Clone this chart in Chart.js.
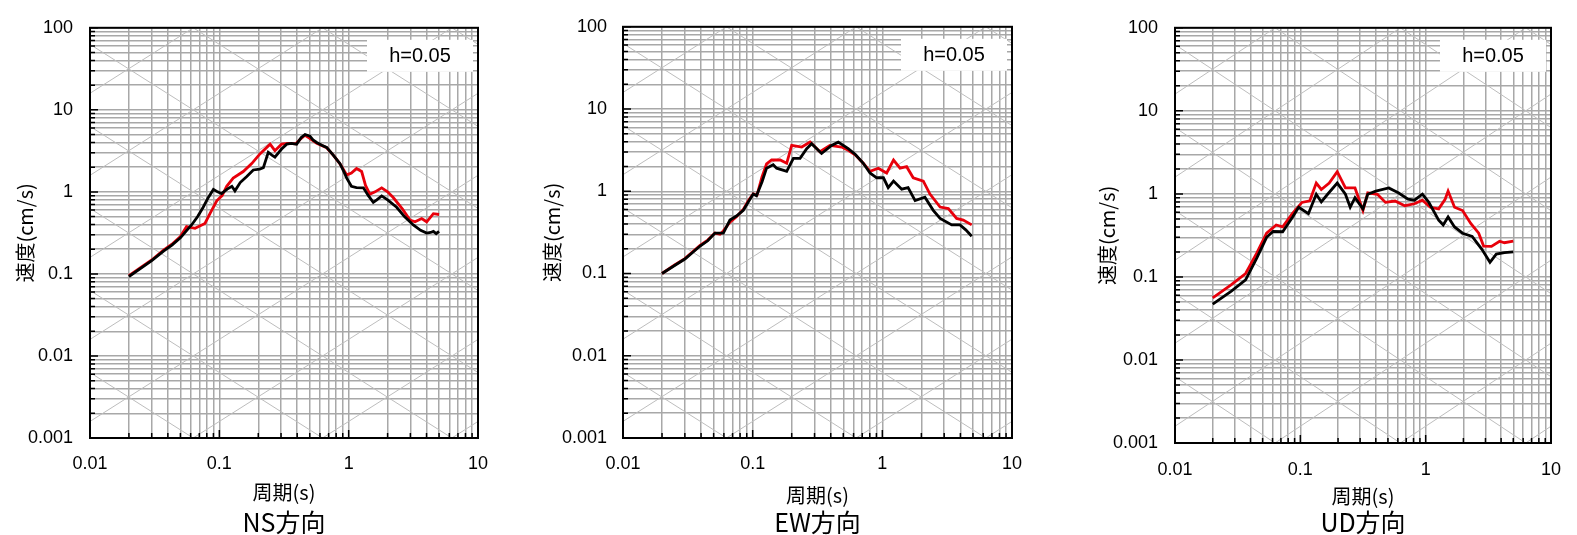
<!DOCTYPE html>
<html lang="ja">
<head>
<meta charset="utf-8">
<title>速度応答スペクトル</title>
<script src="https://cdn.jsdelivr.net/npm/chart.js@4.4.1/dist/chart.umd.min.js"></script>
<style>
  body { margin: 0; background: #fff; }
  .box { position: absolute; top: 0; height: 535px; }
</style>
</head>
<body>
<div class="box" style="left:0px;width:512px"><canvas id="nsChart" width="512" height="535"></canvas></div>
<div class="box" style="left:527px;width:533px"><canvas id="ewChart" width="533" height="535"></canvas></div>
<div class="box" style="left:1082px;width:495px"><canvas id="udChart" width="495" height="535"></canvas></div>
<script>
// 周期(s) と 速度(cm/s) の読み取り値
const nsBlackT = [0.02, 0.03, 0.037, 0.043, 0.05, 0.056, 0.061, 0.068, 0.075, 0.082, 0.09, 0.097, 0.104, 0.115, 0.125, 0.132, 0.145, 0.163, 0.183, 0.205, 0.219, 0.239, 0.255, 0.269, 0.303, 0.332, 0.36, 0.396, 0.43, 0.46, 0.502, 0.53, 0.566, 0.62, 0.676, 0.76, 0.857, 0.92, 0.966, 1.05, 1.15, 1.3, 1.42, 1.55, 1.65, 1.8, 2.0, 2.35, 2.7, 3.16, 3.6, 4.01, 4.3, 4.52, 4.75, 5.0];
const nsBlackV = [0.093, 0.145, 0.19, 0.225, 0.275, 0.34, 0.395, 0.5, 0.65, 0.85, 1.07, 1.0, 0.95, 1.08, 1.17, 1.03, 1.3, 1.54, 1.85, 1.9, 1.97, 3.04, 2.8, 2.65, 3.33, 3.82, 3.9, 3.82, 4.6, 5.0, 4.78, 4.3, 4.0, 3.7, 3.49, 2.8, 2.21, 1.75, 1.47, 1.17, 1.13, 1.12, 0.9, 0.745, 0.8, 0.893, 0.8, 0.65, 0.5, 0.395, 0.34, 0.315, 0.32, 0.33, 0.31, 0.33];
const nsRedT = [0.02, 0.03, 0.037, 0.043, 0.05, 0.0558, 0.0649, 0.0774, 0.085, 0.0955, 0.105, 0.114, 0.128, 0.153, 0.178, 0.206, 0.247, 0.269, 0.303, 0.34, 0.39, 0.43, 0.46, 0.5, 0.566, 0.676, 0.76, 0.857, 0.966, 1.05, 1.15, 1.26, 1.35, 1.46, 1.6, 1.8, 2.0, 2.21, 2.6, 2.98, 3.26, 3.67, 4.01, 4.52, 5.0];
const nsRedV = [0.095, 0.148, 0.195, 0.23, 0.285, 0.377, 0.36, 0.413, 0.55, 0.78, 0.9, 1.17, 1.47, 1.77, 2.21, 2.9, 3.82, 3.18, 3.82, 3.9, 3.85, 4.5, 4.9, 4.5, 3.9, 3.45, 2.8, 2.2, 1.61, 1.7, 1.93, 1.77, 1.2, 0.935, 1.0, 1.12, 1.0, 0.853, 0.62, 0.453, 0.432, 0.473, 0.432, 0.542, 0.53];

const ewBlackT = [0.02, 0.025, 0.03, 0.0393, 0.045, 0.0512, 0.0594, 0.0668, 0.075, 0.0847, 0.093, 0.101, 0.107, 0.118, 0.128, 0.144, 0.153, 0.183, 0.206, 0.232, 0.261, 0.285, 0.34, 0.406, 0.457, 0.546, 0.62, 0.713, 0.803, 0.904, 1.02, 1.11, 1.22, 1.41, 1.58, 1.79, 2.13, 2.47, 2.79, 3.43, 3.97, 4.4, 4.89];
const ewBlackV = [0.1, 0.125, 0.15, 0.216, 0.25, 0.31, 0.31, 0.447, 0.5, 0.587, 0.75, 0.925, 0.88, 1.3, 1.91, 2.1, 1.91, 1.75, 2.51, 2.51, 3.3, 3.78, 2.88, 3.61, 3.96, 3.3, 2.8, 2.19, 1.67, 1.46, 1.46, 1.11, 1.33, 1.06, 1.11, 0.77, 0.845, 0.587, 0.467, 0.39, 0.39, 0.34, 0.284];
const ewRedT = [0.02, 0.025, 0.03, 0.0393, 0.045, 0.0512, 0.056, 0.0594, 0.0668, 0.075, 0.0847, 0.093, 0.101, 0.108, 0.118, 0.128, 0.14, 0.163, 0.183, 0.2, 0.239, 0.277, 0.33, 0.394, 0.486, 0.546, 0.62, 0.713, 0.803, 0.931, 1.08, 1.22, 1.37, 1.54, 1.73, 2.07, 2.33, 2.79, 3.23, 3.74, 4.21, 4.89];
const ewRedV = [0.1, 0.127, 0.152, 0.22, 0.255, 0.31, 0.3, 0.33, 0.42, 0.49, 0.6, 0.78, 0.93, 0.9, 1.5, 2.15, 2.4, 2.4, 2.19, 3.61, 3.45, 3.96, 3.02, 3.61, 3.45, 3.15, 2.75, 2.19, 1.75, 1.91, 1.67, 2.4, 1.91, 1.99, 1.46, 1.33, 0.925, 0.643, 0.615, 0.467, 0.447, 0.39];

const udBlackT = [0.02, 0.028, 0.0366, 0.04, 0.045, 0.0538, 0.0606, 0.0723, 0.0863, 0.097, 0.116, 0.134, 0.147, 0.165, 0.197, 0.229, 0.25, 0.273, 0.316, 0.345, 0.4, 0.507, 0.605, 0.723, 0.813, 0.942, 1.06, 1.27, 1.38, 1.51, 1.7, 1.97, 2.35, 2.81, 3.26, 3.66, 4.25, 5.0];
const udBlackV = [0.047, 0.067, 0.092, 0.12, 0.17, 0.3, 0.352, 0.35, 0.52, 0.69, 0.577, 0.99, 0.8, 0.99, 1.35, 0.99, 0.69, 0.9, 0.66, 0.99, 1.08, 1.18, 1.03, 0.863, 0.84, 0.99, 0.79, 0.482, 0.422, 0.527, 0.4, 0.336, 0.308, 0.215, 0.15, 0.188, 0.196, 0.2];
const udRedT = [0.02, 0.028, 0.0366, 0.04, 0.0451, 0.0538, 0.0642, 0.0723, 0.0863, 0.103, 0.119, 0.134, 0.147, 0.17, 0.197, 0.229, 0.273, 0.316, 0.345, 0.412, 0.478, 0.57, 0.681, 0.813, 0.942, 1.09, 1.27, 1.43, 1.51, 1.7, 1.97, 2.29, 2.65, 2.9, 3.35, 3.89, 4.25, 5.0];
const udRedV = [0.056, 0.08, 0.11, 0.14, 0.196, 0.336, 0.422, 0.4, 0.577, 0.789, 0.826, 1.35, 1.13, 1.35, 1.85, 1.18, 1.18, 0.63, 1.03, 0.99, 0.79, 0.82, 0.72, 0.76, 0.84, 0.69, 0.66, 0.86, 1.08, 0.69, 0.63, 0.44, 0.336, 0.235, 0.233, 0.269, 0.258, 0.27];

// 軸の目盛り
const xMajor = [0.01, 0.1, 1, 10];
const xMajorLabels = ['0.01', '0.1', '1', '10'];
const yMajor = [0.001, 0.01, 0.1, 1, 10, 100];
const yMajorLabels = ['0.001', '0.01', '0.1', '1', '10', '100'];
const minorSteps = [1, 2, 3, 4, 5, 6, 7, 8, 9];

// 三軸図の斜線: 変位 (cm) と 加速度 (cm/s2)
const dispLines = [1e-5, 1e-4, 1e-3, 1e-2, 0.1, 1, 10, 100];
const accLines = [1e-3, 1e-2, 0.1, 1, 10, 100, 1000, 10000];

const tickValues = (majors) => {
  const out = [];
  majors.forEach((d, i) => {
    if (i === majors.length - 1) { out.push(d); return; }
    minorSteps.forEach(m => out.push(Number((m * d).toPrecision(6))));
  });
  return out;
};
const isMajor = (majors, v) => majors.findIndex(m => Math.abs(v - m) / m < 1e-6);
const toPoints = (ts, vs) => ts.map((t, i) => ({ x: t, y: vs[i] }));

const tickFont = { family: '"Liberation Sans", Arial, sans-serif', size: 18 };
const jpFont = '"Noto Sans CJK JP", "Noto Sans", sans-serif';

const spectrumGrid = {
  id: 'spectrumGrid',
  beforeDatasetsDraw(chart) {
    const { ctx, chartArea: a, scales: { x, y } } = chart;
    const t0 = xMajor[0], t1 = xMajor[xMajor.length - 1];
    ctx.save();
    ctx.beginPath();
    ctx.rect(a.left, a.top, a.width, a.height);
    ctx.clip();
    ctx.strokeStyle = '#bdbdbd';
    ctx.lineWidth = 1;
    ctx.beginPath();
    dispLines.forEach(d => {
      ctx.moveTo(x.getPixelForValue(t0), y.getPixelForValue(2 * Math.PI * d / t0));
      ctx.lineTo(x.getPixelForValue(t1), y.getPixelForValue(2 * Math.PI * d / t1));
    });
    accLines.forEach(ac => {
      ctx.moveTo(x.getPixelForValue(t0), y.getPixelForValue(ac * t0 / (2 * Math.PI)));
      ctx.lineTo(x.getPixelForValue(t1), y.getPixelForValue(ac * t1 / (2 * Math.PI)));
    });
    ctx.stroke();
    ctx.restore();
  },
  afterDatasetsDraw(chart, args, opts) {
    const { ctx, chartArea: a, scales: { x, y } } = chart;
    ctx.save();
    // h=0.05 の枠
    ctx.fillStyle = '#fff';
    ctx.fillRect(a.right - 111, a.top + 12, 106, 32);
    ctx.fillStyle = '#000';
    ctx.font = '20px "Liberation Sans", Arial, sans-serif';
    ctx.textAlign = 'center';
    ctx.textBaseline = 'middle';
    ctx.fillText(opts.note, a.right - 58, a.top + 29);
    // 内向きの目盛り
    ctx.strokeStyle = '#000';
    ctx.lineWidth = 1.5;
    ctx.beginPath();
    x.ticks.forEach(t => {
      const px = x.getPixelForValue(t.value);
      const len = isMajor(xMajor, t.value) >= 0 ? 8 : 5;
      ctx.moveTo(px, a.bottom);
      ctx.lineTo(px, a.bottom - len);
    });
    y.ticks.forEach(t => {
      const py = y.getPixelForValue(t.value);
      const len = isMajor(yMajor, t.value) >= 0 ? 8 : 5;
      ctx.moveTo(a.left, py);
      ctx.lineTo(a.left + len, py);
    });
    ctx.stroke();
    ctx.lineWidth = 2;
    ctx.strokeRect(a.left, a.top, a.width, a.height);
    ctx.restore();
  }
};

function makeChart(id, caption, series, lay) {
  const ctx = document.getElementById(id).getContext('2d');
  const capBlock = 25 + lay.capPadTop;
  return new Chart(ctx, {
    type: 'line',
    data: {
      datasets: [
        { label: '黒', data: toPoints(series[0], series[1]), borderColor: '#000', borderWidth: 2.8, pointRadius: 0, tension: 0 },
        { label: '赤', data: toPoints(series[2], series[3]), borderColor: '#e8000b', borderWidth: 2.8, pointRadius: 0, tension: 0 }
      ]
    },
    options: {
      responsive: false,
      animation: false,
      layout: { padding: { top: 15, right: lay.padRight, left: 0, bottom: 0 } },
      scales: {
        x: {
          type: 'logarithmic',
          min: xMajor[0],
          max: xMajor[xMajor.length - 1],
          afterBuildTicks: s => { s.ticks = tickValues(xMajor).map(v => ({ value: v })); },
          afterFit: s => { s.height = 535 - capBlock - lay.bottom; },
          grid: { color: '#a8a8a8', lineWidth: 1.5, drawTicks: false },
          border: { display: false },
          ticks: {
            autoSkip: false, maxRotation: 0, minRotation: 0, padding: lay.xTickPad,
            color: '#000', font: tickFont,
            callback: v => { const i = isMajor(xMajor, v); return i < 0 ? '' : xMajorLabels[i]; }
          },
          title: {
            display: true, text: '周期(s)', color: '#000',
            font: { family: jpFont, size: 20, lineHeight: 1 },
            padding: { top: 0, bottom: lay.xTitlePad }
          }
        },
        y: {
          type: 'logarithmic',
          min: yMajor[0],
          max: yMajor[yMajor.length - 1],
          afterBuildTicks: s => { s.ticks = tickValues(yMajor).map(v => ({ value: v })); },
          afterFit: s => { s.width = lay.axisW; },
          grid: { color: '#a8a8a8', lineWidth: 1.5, drawTicks: false },
          border: { display: false },
          ticks: {
            autoSkip: false, padding: lay.yTickPad, color: '#000', font: tickFont,
            callback: v => { const i = isMajor(yMajor, v); return i < 0 ? '' : yMajorLabels[i]; }
          },
          title: {
            display: true, text: '速度(cm/s)', color: '#000',
            font: { family: jpFont, size: 20, lineHeight: 1 },
            padding: { top: 15, bottom: 0 }
          }
        }
      },
      plugins: {
        legend: { display: false },
        tooltip: { enabled: false },
        title: {
          display: true, position: 'bottom', fullSize: false, text: caption, color: '#000',
          font: { family: jpFont, size: 25, weight: 'normal', lineHeight: 1 },
          padding: { top: lay.capPadTop, bottom: 0 }
        },
        spectrumGrid: { note: 'h=0.05' }
      }
    },
    plugins: [spectrumGrid]
  });
}

makeChart('nsChart', 'NS方向', [nsBlackT, nsBlackV, nsRedT, nsRedV],
  { axisW: 90, padRight: 34, bottom: 438, xTickPad: 15, yTickPad: 17, xTitlePad: 0, capPadTop: 8 });
makeChart('ewChart', 'EW方向', [ewBlackT, ewBlackV, ewRedT, ewRedV],
  { axisW: 96, padRight: 48, bottom: 438, xTickPad: 15, yTickPad: 16, xTitlePad: -3, capPadTop: 8 });
makeChart('udChart', 'UD方向', [udBlackT, udBlackV, udRedT, udRedV],
  { axisW: 93, padRight: 12, bottom: 443, xTickPad: 16, yTickPad: 17, xTitlePad: -2, capPadTop: 6 });
</script>
</body>
</html>
